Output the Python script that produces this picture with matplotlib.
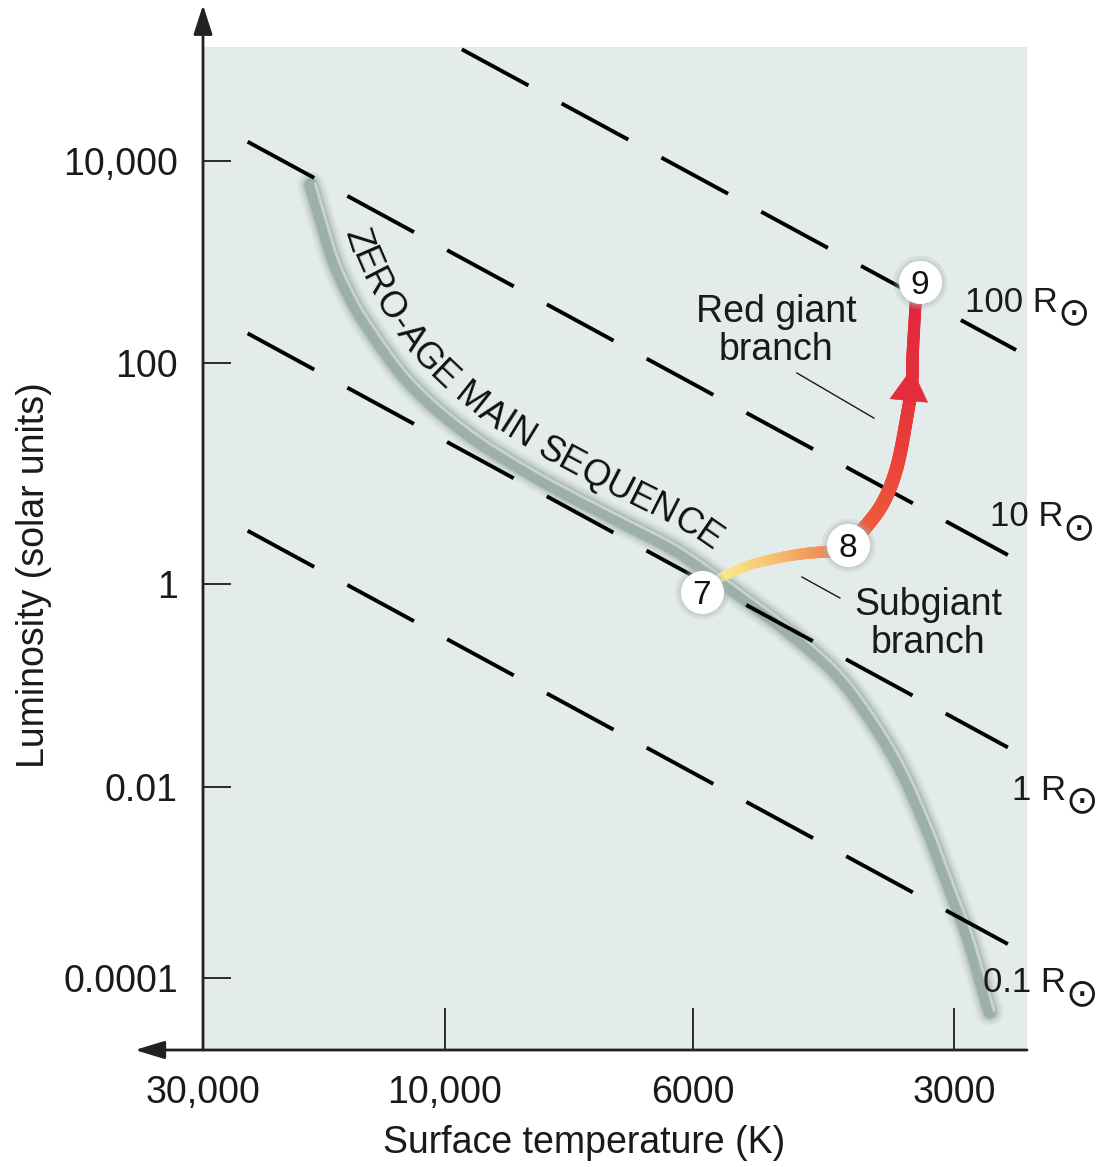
import numpy as np
import matplotlib
matplotlib.use("Agg")
import matplotlib.pyplot as plt
from matplotlib.collections import LineCollection
from matplotlib.colors import LinearSegmentedColormap
from matplotlib.transforms import IdentityTransform
from matplotlib.font_manager import FontProperties

plt.rcParams["font.family"] = ["Liberation Sans", "DejaVu Sans"]

# ---------------- data ----------------
temp_ticks = [30000, 10000, 6000, 3000]
temp_labels = ["30,000", "10,000", "6000", "3000"]
lum_ticks = [1e4, 1e2, 1, 1e-2, 1e-4]
lum_labels = ["10,000", "100", "1", "0.01", "0.0001"]

# zero-age main sequence (surface temperature K, luminosity L_sun)
zams_T = [18380, 17640, 16630, 15540, 14250, 11720, 9556, 8340, 7264, 6328,
          5891, 5397, 4724, 4137, 3780, 3463, 3224, 3057, 2899, 2779, 2727]
zams_L = [5781, 2915, 1092, 502, 236.5, 65.5, 23.2, 9.66, 4.57, 2.25,
          1.455, 0.873, 0.3764, 0.1417, 0.05336, 0.01565, 0.003784, 0.001054,
          2.94e-4, 7.99e-5, 4.37e-5]

# subgiant branch (7 -> 8) and red giant branch (8 -> 9)
subgiant_T = [5587, 5158, 4724, 4399, 4171]
subgiant_L = [1.133, 1.485, 1.754, 1.906, 1.947]
redgiant_T = [3977, 3821, 3624, 3491, 3400, 3355, 3346, 3320]
redgiant_L = [2.25, 3.076, 5.395, 11.41, 32.3, 65.5, 133.6, 420]
arrow_T = [3382, 3355]        # arrow head base -> tip
arrow_L = [46.0, 89.6]

# evolutionary stages
stage_names = ["7", "8", "9"]
stage_T = [5860, 3977, 3284]
stage_L = [0.834, 2.25, 636]

# lines of constant radius (start / end values)
radius_names = ["100 R", "10 R", "1 R", "0.1 R"]
radius_T_start = [9660, 24500, 24500, 24500]
radius_L_start = [128100, 15540, 195.6, 3.031]
radius_T_end = [2544, 2600, 2600, 2600]
radius_L_end = [133.6, 1.829, 0.0244, 2.25e-4]

# leader lines for branch labels
leader_T = [[4553, 3711], [4493, 4062]]
leader_L = [[80.7, 31.6], [1.157, 0.728]]

# ---------------- schematic axis scales (layout) ----------------
W, H, DPI = 1100, 1167, 100
AX_L, AX_B, AX_W, AX_H = 203, 117, 824, 1003     # axes box in pixels
T_anchor_pos = [-751, -490, -242, 0]              # placements for 3000, 6000, 10000, 30000
L_anchor_pos = [72.3, 263.3, 466, 687.3, 889]     # placements for 1e-4 .. 1e4


def pw(x, xa, ya):
    xa = np.asarray(xa, float)
    ya = np.asarray(ya, float)
    x = np.asarray(x, float)
    y = np.interp(x, xa, ya)
    s0 = (ya[1] - ya[0]) / (xa[1] - xa[0])
    s1 = (ya[-1] - ya[-2]) / (xa[-1] - xa[-2])
    y = np.where(x < xa[0], ya[0] + (x - xa[0]) * s0, y)
    y = np.where(x > xa[-1], ya[-1] + (x - xa[-1]) * s1, y)
    return y


Tu = np.log10(np.sort(np.array(temp_ticks, float)))
Lu = np.log10(np.sort(np.array(lum_ticks, float)))


def fx(T):
    return pw(np.log10(np.clip(np.asarray(T, float), 1e-30, None)), Tu, T_anchor_pos)


def fxi(v):
    return 10 ** pw(v, T_anchor_pos, Tu)


def fy(L):
    return pw(np.log10(np.clip(np.asarray(L, float), 1e-300, None)), Lu, L_anchor_pos)


def fyi(v):
    return 10 ** pw(v, L_anchor_pos, Lu)


fig = plt.figure(figsize=(W / DPI, H / DPI), dpi=DPI)
fig.patch.set_facecolor("white")
ax = fig.add_axes([AX_L / W, AX_B / H, AX_W / W, AX_H / H])
ax.set_xscale("function", functions=(fx, fxi))
ax.set_yscale("function", functions=(fy, fyi))
ax.set_xlim(float(fxi(0)), float(fxi(-AX_W)))
ax.set_ylim(float(fyi(0)), float(fyi(AX_H)))
ax.set_facecolor("#e4eceb")
for sp in ax.spines.values():
    sp.set_visible(False)

ax.set_xticks(temp_ticks, temp_labels)
ax.set_yticks(lum_ticks, lum_labels)
ax.minorticks_off()
ax.tick_params(axis="x", direction="in", length=30, width=1.3, pad=18,
               labelsize=27, colors="#1a1a1a")
ax.tick_params(axis="y", direction="in", length=20, width=1.3, pad=18,
               labelsize=27, colors="#1a1a1a")
ax.set_xlabel("Surface temperature (K)", fontsize=27, color="#1a1a1a")
ax.set_ylabel("Luminosity (solar units)", fontsize=27, color="#1a1a1a")
ax.xaxis.set_label_coords((584 - AX_L) / AX_W, (1050 - 1125) / AX_H)
ax.yaxis.set_label_coords((52 - AX_L) / AX_W, (1050 - 575) / AX_H)

# axis arrows
ax.annotate("", xy=(0, (1050 - 5) / AX_H), xytext=(0, 0), xycoords="axes fraction",
            arrowprops=dict(arrowstyle="-|>,head_length=18,head_width=5.8",
                            mutation_scale=1, lw=2, color="#222222",
                            shrinkA=0, shrinkB=0), annotation_clip=False)
ax.annotate("", xy=((135 - AX_L) / AX_W, 0), xytext=(1, 0), xycoords="axes fraction",
            arrowprops=dict(arrowstyle="-|>,head_length=18,head_width=5.5",
                            mutation_scale=1, lw=2, color="#222222",
                            shrinkA=0, shrinkB=0), annotation_clip=False)

IDT = IdentityTransform()


def smooth_disp(T, L, n=24):
    """Smooth (Catmull-Rom / cubic Bezier) curve through the data points, in pixels."""
    P = ax.transData.transform(np.column_stack([T, L]))
    E = np.vstack([P[0], P, P[-1]])
    tt = np.linspace(0, 1, n + 1)[1:, None]
    out = [P[:1]]
    for i in range(len(P) - 1):
        p0, p3 = P[i], P[i + 1]
        c1 = p0 + (E[i + 2] - E[i]) / 6.0
        c2 = p3 - (E[i + 3] - E[i + 1]) / 6.0
        out.append((1 - tt) ** 3 * p0 + 3 * (1 - tt) ** 2 * tt * c1
                   + 3 * (1 - tt) * tt ** 2 * c2 + tt ** 3 * p3)
    return np.vstack(out)


def normals(C):
    d = np.gradient(C, axis=0)
    t = d / np.linalg.norm(d, axis=1)[:, None]
    return np.column_stack([-t[:, 1], t[:, 0]])


# zero-age main sequence band (soft shaded tube)
band = smooth_disp(zams_T, zams_L)
bn = normals(band)
for w, a in zip([20, 17, 14, 11.5], [0.07, 0.09, 0.12, 0.16]):
    ax.plot(band[:, 0], band[:, 1], transform=IDT, color="#6f8884", lw=w, alpha=a,
            zorder=2, solid_capstyle="round", solid_joinstyle="round")
ax.plot(band[:, 0], band[:, 1], transform=IDT, color="#93a8a4", lw=9.5, alpha=0.75,
        zorder=2.05, solid_capstyle="round")
hl = band + bn * 4.5
ax.plot(hl[:, 0], hl[:, 1], transform=IDT, color="#f2f6f5", lw=2.2, alpha=0.5,
        zorder=2.07, solid_capstyle="round")

# lines of constant radius
for ts, ls, te, le in zip(radius_T_start, radius_L_start, radius_T_end, radius_L_end):
    ax.plot([ts, te], [ls, le], color="black", lw=2.8, dashes=(19.5, 9.7),
            dash_capstyle="butt", zorder=3)

# labels for the radius lines (with solar symbol)
rad_pos = [((965 - AX_L) / AX_W, (1050 - 311.5) / AX_H),
           ((990 - AX_L) / AX_W, (1050 - 526.5) / AX_H),
           ((1012 - AX_L) / AX_W, (1050 - 799.5) / AX_H),
           ((983 - AX_L) / AX_W, (1050 - 992.5) / AX_H)]
for name, (px, py) in zip(radius_names, rad_pos):
    tx = ax.text(px, py, name, transform=ax.transAxes, fontsize=25,
                 ha="left", va="baseline", color="#1a1a1a", zorder=6)
    ax.annotate("\u2299", xy=(1, 0), xycoords=tx, xytext=(-0.5, 4.0),
                textcoords="offset points", ha="left", va="center", fontsize=28,
                family="DejaVu Sans", color="#1a1a1a", zorder=6)


def gradient_track(T, L, colors, lw0, lw1, z):
    C = smooth_disp(T, L)
    seglen = np.hypot(*np.diff(C, axis=0).T)
    fr = np.r_[0, np.cumsum(seglen)] / seglen.sum()
    segs = np.stack([C[:-1], C[1:]], axis=1)
    fm = 0.5 * (fr[:-1] + fr[1:])
    cmap = LinearSegmentedColormap.from_list("trk", colors)
    lc = LineCollection(segs, colors=cmap(fm), linewidths=lw0 + (lw1 - lw0) * fm,
                        capstyle="round", joinstyle="round", zorder=z, transform=IDT)
    ax.add_collection(lc, autolim=False)


gradient_track(subgiant_T, subgiant_L, ["#f9f08e", "#f6c672", "#ef8b56"], 6.5, 8.5, 4)
gradient_track(redgiant_T, redgiant_L, ["#f0663a", "#e93a3a", "#e2263c"], 10.5, 8.5, 4)
ax.annotate("", xy=(arrow_T[1], arrow_L[1]), xytext=(arrow_T[0], arrow_L[0]),
            arrowprops=dict(arrowstyle="-|>,head_length=23,head_width=13.5",
                            mutation_scale=1, lw=0.5, color="#e42c3c",
                            shrinkA=0, shrinkB=0), zorder=4.5)

# leader lines
for lt, ll in zip(leader_T, leader_L):
    ax.plot(lt, ll, color="#1a1a1a", lw=1.0, zorder=4)

# branch labels
ax.text((776 - AX_L) / AX_W, (1050 - 331) / AX_H, "Red giant\nbranch",
        transform=ax.transAxes, fontsize=27, ha="center", va="center",
        linespacing=1.05, color="#1a1a1a", zorder=6)
ax.text((928 - AX_L) / AX_W, (1050 - 624) / AX_H, "Subgiant\nbranch",
        transform=ax.transAxes, fontsize=27, ha="center", va="center",
        linespacing=1.05, color="#1a1a1a", zorder=6)

# stage markers
ax.scatter(stage_T, stage_L, s=1500, color="#a7b5b3", alpha=0.22, linewidths=0, zorder=5)
ax.scatter(stage_T, stage_L, s=1200, color="#a7b5b3", alpha=0.3, linewidths=0, zorder=5)
ax.scatter(stage_T, stage_L, s=960, color="white", linewidths=0, zorder=5.1)
for n, t, l in zip(stage_names, stage_T, stage_L):
    ax.annotate(n, (t, l), xytext=(0, -8.6), textcoords="offset points", ha="center",
                va="baseline", fontsize=24, color="#111111", zorder=6)

# curved "ZERO-AGE MAIN SEQUENCE" label following the band
fig.canvas.draw()
renderer = fig.canvas.get_renderer()
label = "ZERO-AGE MAIN SEQUENCE"
fs = 26
prop = FontProperties(family="Liberation Sans", size=fs)
wH = renderer.get_text_width_height_descent("H", prop, ismath=False)[0]
starts = [renderer.get_text_width_height_descent(label[:i] + "H", prop, ismath=False)[0] - wH
          for i in range(len(label) + 1)]
starts[0] = 0.0
band_s = np.r_[0, np.cumsum(np.hypot(*np.diff(band, axis=0).T))]
off = band + bn * 19.0
off_s = np.r_[0, np.cumsum(np.hypot(*np.diff(off, axis=0).T))]
idx0 = np.interp(56.0, band_s, np.arange(len(band_s)))
s0 = np.interp(idx0, np.arange(len(off_s)), off_s)
for i, ch in enumerate(label):
    if ch == " ":
        continue
    sc = s0 + 0.5 * (starts[i] + starts[i + 1])
    x = np.interp(sc, off_s, off[:, 0])
    y = np.interp(sc, off_s, off[:, 1])
    xa = np.interp(sc - 8, off_s, off[:, 0]); ya = np.interp(sc - 8, off_s, off[:, 1])
    xb = np.interp(sc + 8, off_s, off[:, 0]); yb = np.interp(sc + 8, off_s, off[:, 1])
    ang = np.degrees(np.arctan2(yb - ya, xb - xa))
    ax.text(x, y, ch, transform=IDT, rotation=ang, rotation_mode="anchor",
            ha="center", va="baseline", fontsize=fs, color="#111111", zorder=3.5)

fig.savefig("out.png", dpi=DPI)
